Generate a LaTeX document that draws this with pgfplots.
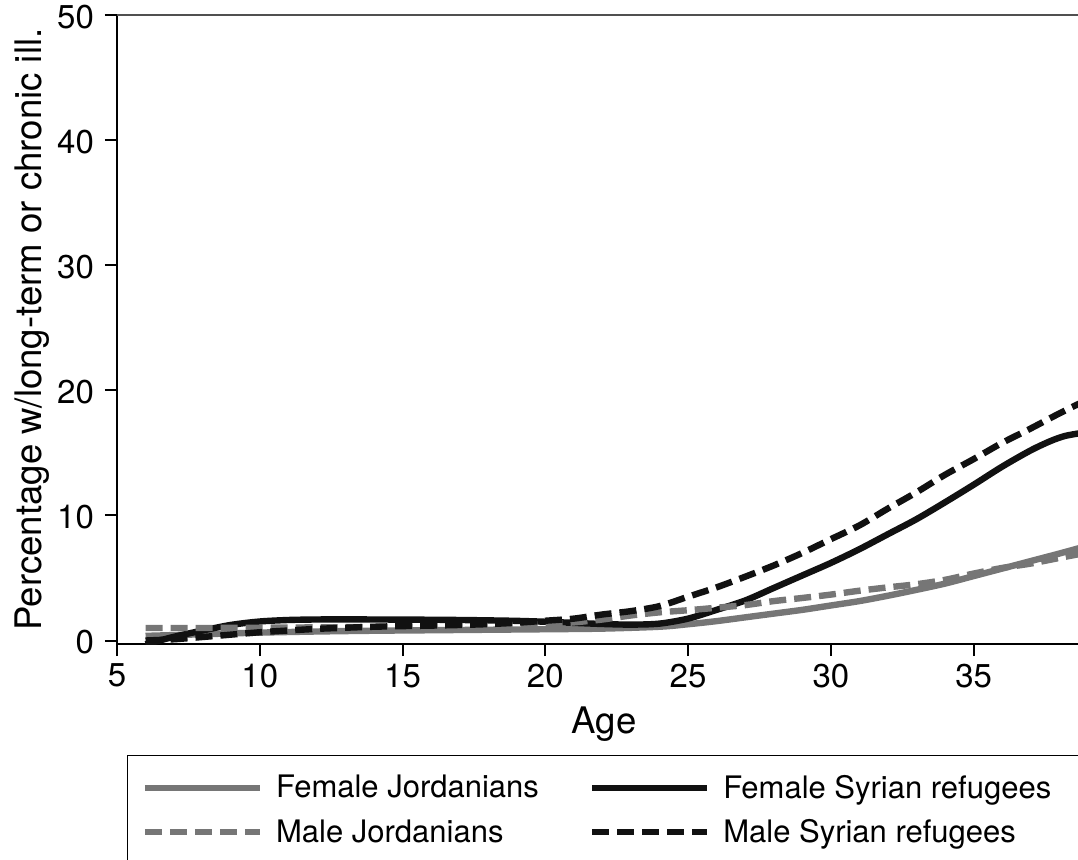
\documentclass[border=0pt]{standalone}
\usepackage{fontspec}
\setmainfont{TeX Gyre Heros}
\usepackage{pgfplots}
\pgfplotsset{compat=1.18}
\definecolor{jgray}{RGB}{118,118,118}
\definecolor{sblack}{RGB}{17,17,17}
\definecolor{gridgray}{RGB}{80,80,80}

\pgfplotstableread{
x y
6 0.37
8 0.50
10 0.63
12 0.72
14 0.78
16 0.82
18 0.86
20 0.90
22 0.95
24 1.10
25 1.30
26 1.55
27 1.85
28 2.15
29 2.45
30 2.80
31 3.15
32 3.58
33 4.05
34 4.55
35 5.15
36 5.75
37 6.35
38 6.95
38.8 7.45
}\femjor

\pgfplotstableread{
x y
6 1.00
8 1.00
10 1.02
12 1.05
14 1.08
16 1.12
18 1.18
20 1.30
21 1.45
22 1.68
23 2.00
24 2.25
25 2.42
26 2.62
27 2.83
28 3.15
29 3.40
30 3.67
31 3.98
32 4.25
33 4.50
34 4.85
35 5.35
36 5.80
37 6.15
38 6.60
38.8 6.95
}\maljor

\pgfplotstableread{
x y
6 -0.30
7 0.30
8 0.80
9 1.25
10 1.52
11 1.64
12 1.68
13 1.69
14 1.68
15 1.67
16 1.66
17 1.64
18 1.61
19 1.57
20 1.50
21 1.41
22 1.32
23 1.27
24 1.35
25 1.75
26 2.45
27 3.20
28 4.20
29 5.20
30 6.20
31 7.30
32 8.50
33 9.70
34 11.05
35 12.45
36 13.90
37 15.20
37.7 15.95
38.2 16.35
38.8 16.60
}\femsyr

\pgfplotstableread{
x y
6 0.00
7 0.10
8 0.28
9 0.47
10 0.66
11 0.80
12 0.93
13 1.02
14 1.10
15 1.15
16 1.19
17 1.24
18 1.31
19 1.42
20 1.58
21 1.75
22 2.08
23 2.35
24 2.75
25 3.50
26 4.25
27 5.10
28 6.00
29 7.00
30 8.10
31 9.20
32 10.55
33 11.85
34 13.25
35 14.50
36 15.80
37 16.95
38 18.15
38.8 19.05
}\malsyr

\begin{document}
\begin{tikzpicture}
\begin{axis}[
  at={(58.5pt,107.5pt)}, anchor=south west,
  scale only axis, width=487pt, height=314.5pt,
  xmin=5, xmax=39.11, ymin=-0.28, ymax=50,
  axis x line*=bottom, axis y line*=left,
  xtick={5,10,...,35}, ytick={0,10,...,50},
  tick align=outside, major tick length=6pt,
  tick style={black, line width=1pt},
  axis line style={black, line width=1pt},
  /pgf/number format/assume math mode=true,
  every tick label/.append style={font=\fontsize{16.5}{19}\selectfont},
  yticklabel style={xshift=-2pt, yshift=-1pt},
  xticklabel style={yshift=-0.5pt},
  xlabel={Age}, ylabel={Percentage w/long-term or chronic ill.},
  label style={font=\fontsize{18.3}{22}\selectfont},
  xlabel style={at={(axis description cs:0.5,-0.1415)}, anchor=base},
  ylabel style={at={(axis description cs:-0.0873,0.5)}, anchor=center},
  extra y ticks={50}, extra y tick labels={},
  extra y tick style={grid=major, major grid style={draw=gridgray, line width=0.9pt}},
  legend columns=2,
  legend cell align=left,
  legend style={draw=none, fill=none, at={(axis description cs:0.02536,-0.2083)}, anchor=north west,
    inner sep=0pt, outer sep=0pt, font=\fontsize{15.5}{18}\selectfont, row sep=9pt,
    nodes={inner sep=0pt},
    /tikz/every odd column/.append style={column sep=6.5pt},
    /tikz/every even column/.append style={column sep=25pt}},
  legend image code/.code={\draw[#1] (0pt,0pt) -- (57.5pt,0pt);},
]
\addplot[jgray, line width=3.2pt, smooth] table {\femjor};
\addlegendentry{Female Jordanians}
\addplot[sblack, line width=3.2pt, smooth] table {\femsyr};
\addlegendentry{Female Syrian refugees}
\addplot[jgray, line width=3.2pt, smooth, dash pattern=on 8.5pt off 4pt] table {\maljor};
\addlegendentry{Male Jordanians}
\addplot[sblack, line width=3.2pt, smooth, dash pattern=on 8.5pt off 4pt] table {\malsyr};
\addlegendentry{Male Syrian refugees}
\end{axis}
\draw[black, line width=0.7pt] (63.85pt,51.65pt) rectangle (600pt,-30pt);
\pgfresetboundingbox
\useasboundingbox (0,0) rectangle (539pt,429.5pt);
\end{tikzpicture}
\end{document}
